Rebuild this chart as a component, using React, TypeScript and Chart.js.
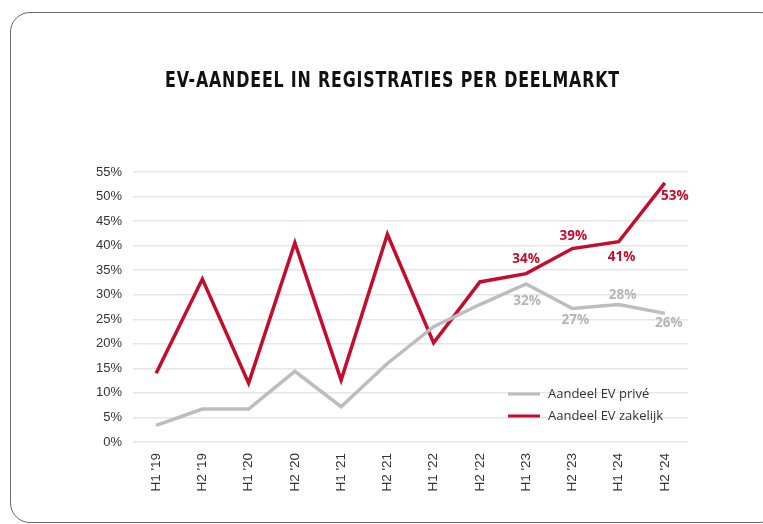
import React, { useEffect, useRef } from "react";
import { Chart, registerables } from "chart.js";

Chart.register(...registerables);

const TITLE = "EV-AANDEEL IN REGISTRATIES PER DEELMARKT";
const categories = ["H1 '19", "H2 '19", "H1 '20", "H2 '20", "H1 '21", "H2 '21", "H1 '22", "H2 '22", "H1 '23", "H2 '23", "H1 '24", "H2 '24"];
const priveValues = [3.4, 6.7, 6.7, 14.4, 7.2, 16, 23.5, 28, 32.2, 27.2, 28, 26.2];
const zakelijkValues = [14, 33.2, 12, 40.6, 12.6, 42.3, 20.2, 32.6, 34.3, 39.4, 40.8, 52.8];
const priveLabels = [null, null, null, null, null, null, null, null, "32%", "27%", "28%", "26%"];
const zakelijkLabels = [null, null, null, null, null, null, null, null, "34%", "39%", "41%", "53%"];
const yTicks = [0, 5, 10, 15, 20, 25, 30, 35, 40, 45, 50, 55];

const RED = "#c40c2c";
const GRAY = "#bdbdbd";

// label offsets (style only)
const priveOffsets = [[0, 0], [0, 0], [0, 0], [0, 0], [0, 0], [0, 0], [0, 0], [0, 0], [1, 17], [3, 12], [4, -9], [4, 10]];
const zakelijkOffsets = [[0, 0], [0, 0], [0, 0], [0, 0], [0, 0], [0, 0], [0, 0], [0, 0], [0, -14], [1, -12], [3, 15], [10, 13]];

const overlayPlugin = {
  id: "overlay",
  afterDatasetsDraw(chart: any) {
    const ctx = chart.ctx;
    const sets = [
      { idx: 0, labels: priveLabels, offsets: priveOffsets, color: "#b5b5b5" },
      { idx: 1, labels: zakelijkLabels, offsets: zakelijkOffsets, color: RED },
    ];
    ctx.save();
    ctx.font = "bold 13.5px 'Open Sans', 'Liberation Sans', sans-serif";
    ctx.textAlign = "center";
    ctx.textBaseline = "middle";
    sets.forEach((s) => {
      const meta = chart.getDatasetMeta(s.idx);
      meta.data.forEach((pt: any, i: number) => {
        const lbl = s.labels[i];
        if (!lbl) return;
        ctx.fillStyle = s.color;
        ctx.fillText(lbl, pt.x + s.offsets[i][0], pt.y + s.offsets[i][1]);
      });
    });
    ctx.restore();
  },
  afterDraw(chart: any) {
    const ctx = chart.ctx;
    // title
    ctx.save();
    ctx.font = "bold 21px 'DejaVu Sans Condensed', 'Liberation Sans Narrow', sans-serif";
    (ctx as any).letterSpacing = "1px";
    ctx.textBaseline = "alphabetic";
    ctx.textAlign = "left";
    const w = ctx.measureText(TITLE).width;
    const target = 455;
    const sx = target / w;
    ctx.translate(165, 87);
    ctx.scale(sx, 1);
    ctx.fillStyle = "#111";
    ctx.fillText(TITLE, 0, 0);
    ctx.restore();

    // legend
    ctx.save();
    ctx.font = "13px 'Open Sans', 'Liberation Sans', sans-serif";
    ctx.textBaseline = "middle";
    ctx.textAlign = "left";
    const items = [
      { label: chart.data.datasets[0].label, color: GRAY, y: 394 },
      { label: chart.data.datasets[1].label, color: RED, y: 416 },
    ];
    items.forEach((it) => {
      ctx.strokeStyle = it.color;
      ctx.lineWidth = 3;
      ctx.beginPath();
      ctx.moveTo(508, it.y);
      ctx.lineTo(540, it.y);
      ctx.stroke();
      ctx.fillStyle = "#333";
      ctx.fillText(it.label, 548, it.y);
    });
    ctx.restore();
  },
};

export default function App() {
  const ref = useRef<HTMLCanvasElement>(null);
  useEffect(() => {
    if (!ref.current) return;
    const chart = new Chart(ref.current, {
      type: "line",
      data: {
        labels: categories,
        datasets: [
          {
            label: "Aandeel EV privé",
            data: priveValues,
            borderColor: GRAY,
            borderWidth: 3.5,
            pointRadius: 0,
            tension: 0,
            borderJoinStyle: "miter",
          },
          {
            label: "Aandeel EV zakelijk",
            data: zakelijkValues,
            borderColor: RED,
            borderWidth: 3.5,
            pointRadius: 0,
            tension: 0,
            borderJoinStyle: "miter",
          },
        ],
      },
      options: {
        animation: false,
        responsive: true,
        maintainAspectRatio: false,
        layout: { padding: { left: 0, top: 172, right: 75, bottom: 0 } },
        plugins: {
          legend: { display: false },
          title: { display: false },
          tooltip: { enabled: false },
        },
        scales: {
          x: {
            type: "category",
            offset: true,
            grid: { display: false },
            border: { display: false },
            ticks: {
              minRotation: 90,
              maxRotation: 90,
              padding: 3,
              color: "#333",
              font: { size: 13.5, family: "'Liberation Sans', Arial, sans-serif" },
            },
            afterFit(scale: any) {
              scale.height = 82;
            },
          },
          y: {
            min: 0,
            max: 55,
            afterBuildTicks(scale: any) {
              scale.ticks = yTicks.map((v) => ({ value: v }));
            },
            grid: { color: "#e6e6e6", lineWidth: 1.5, drawTicks: false },
            border: { display: false },
            ticks: {
              padding: 11,
              color: "#333",
              font: { size: 13, family: "'Liberation Sans', Arial, sans-serif" },
              callback: (v: any) => v + "%",
            },
            afterFit(scale: any) {
              scale.width = 133;
            },
          },
        },
      },
      plugins: [overlayPlugin],
    });
    return () => chart.destroy();
  }, []);

  return (
    <div style={{ position: "fixed", left: 0, top: 0, width: 763, height: 524, background: "#fff", overflow: "hidden" }}>
      <div
        style={{
          position: "absolute",
          left: 10,
          top: 12,
          width: 770,
          height: 511,
          border: "1.5px solid #666",
          borderRadius: 20,
          boxSizing: "border-box",
        }}
      />
      <div style={{ position: "absolute", left: 0, top: 0, width: 763, height: 524 }}>
        <canvas ref={ref} />
      </div>
    </div>
  );
}
